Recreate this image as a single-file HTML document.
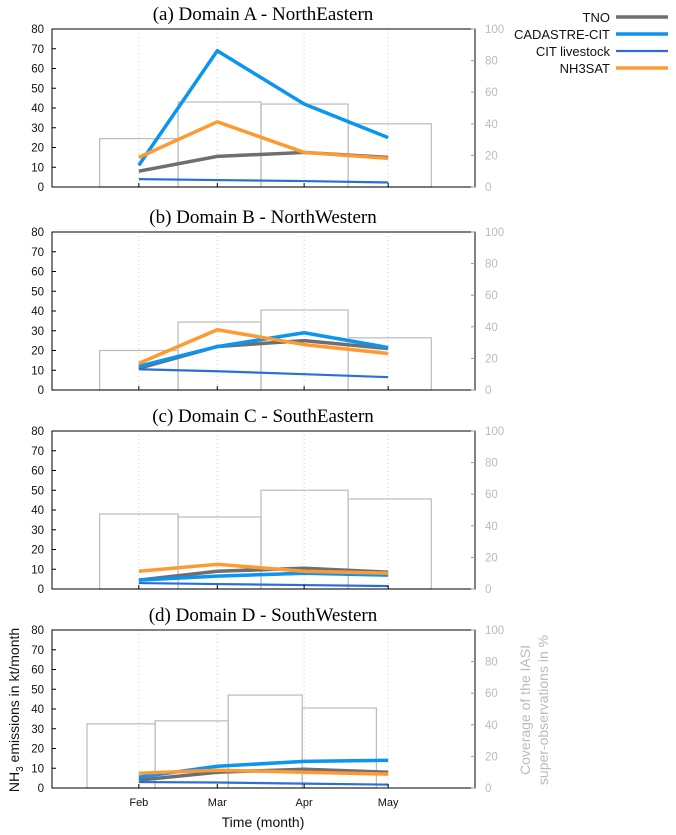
<!DOCTYPE html>
<html><head><meta charset="utf-8"><style>
body{margin:0;background:#fff}
svg{display:block;font-family:"Liberation Sans","DejaVu Sans",sans-serif}
</style></head><body>
<svg id="c" width="676" height="835" xmlns="http://www.w3.org/2000/svg"></svg>
<script>
const months=["Feb","Mar","Apr","May"];
const monthDays=[31,59,90,120];
const panelTitles=["(a) Domain A  - NorthEastern","(b) Domain B - NorthWestern","(c) Domain C - SouthEastern","(d) Domain D - SouthWestern"];
const seriesNames=["TNO","CADASTRE-CIT","CIT livestock","NH3SAT"];
const tnoVals=[[8,15.5,17.5,15],[11,22,25,21],[4.5,9,10.5,8.5],[4,8,9.5,8]];
const cadVals=[[11,69,42,25],[12,22,29,21.5],[4.5,6.5,8,7],[5.5,11,13.5,14]];
const citVals=[[4,3.5,3,2.3],[10.5,9.5,8,6.5],[3,2.5,2,1.5],[3,2.8,2.2,1.7]];
const satVals=[[15,33,17.5,14.5],[13.5,30.5,23,18.5],[9,12.5,9,8],[7.5,9,8,7]];
const coverVals=[[30.6,53.8,52.5,40],[25,43,50.6,33],[47.5,45.6,62.5,57],[40.6,42.5,58.8,50.6]];
const coverStart=[[17,45,74.6,105.7],[17,45,74.6,105.7],[17,45,74.6,105.7],[12.5,36.8,62.9,89.3]];
const coverEnd=[[45,74.6,105.7,135.4],[45,74.6,105.7,135.4],[45,74.6,105.7,135.4],[36.8,62.9,89.3,115.8]];
const leftTicks=[0,10,20,30,40,50,60,70,80];
const rightTicks=[0,20,40,60,80,100];

const svg=document.getElementById('c');
const NS="http://www.w3.org/2000/svg";
function mk(t,a,p){const e=document.createElementNS(NS,t);for(const k in a)e.setAttribute(k,a[k]);(p||svg).appendChild(e);return e;}
const X0=52,X1=475,D0=0,D1=151;
const xS=d=>X0+(d-D0)/(D1-D0)*(X1-X0);
const tops=[29,232,431,630],H=158;
const colors=["#6e6e73","#0a96f0","#2a6fd8","#ff9a33"];
const widths=[3.5,3.5,2.2,3.5];
const allSeries=[tnoVals,cadVals,citVals,satVals];

for(let p=0;p<4;p++){
  const top=tops[p],bot=top+H;
  const yL=v=>bot-v/80*H, yR=v=>bot-v/100*H;
  const g=mk('g',{});
  
  
  const t=mk('text',{x:263,y:top-9,'text-anchor':'middle','font-size':19,'font-family':'"Liberation Serif",serif',fill:'#000'},g);
  t.textContent=panelTitles[p];
  
  
  // grid
  monthDays.forEach(d=>{const l=mk('line',{x1:xS(d),x2:xS(d),y1:top,y2:bot,stroke:'#ccc','stroke-dasharray':'1,3'},g);
    });
  // bars
  for(let i=0;i<4;i++){
    const b=mk('rect',{x:xS(coverStart[p][i]),y:yR(coverVals[p][i]),width:xS(coverEnd[p][i])-xS(coverStart[p][i]),height:bot-yR(coverVals[p][i]),fill:'none',stroke:'#bbb','stroke-width':1.2},g);
    
    
  }
  // lines
  allSeries.forEach((s,si)=>{
    const pts=s[p].map((v,i)=>xS(monthDays[i])+','+yL(v)).join(' ');
    const l=mk('polyline',{points:pts,fill:'none',stroke:colors[si],'stroke-width':widths[si],'stroke-linejoin':'round'},g);
    
    
  });
  // frame
  const f=mk('rect',{x:X0,y:top,width:X1-X0,height:H,fill:'none',stroke:'#000','stroke-width':1},g);
  
  leftTicks.forEach(v=>{
    const tt=mk('text',{x:44,y:yL(v)+4,'text-anchor':'end','font-size':11.5,fill:'#111'},g);tt.textContent=v;
    
    mk('line',{x1:X0,x2:X0+4,y1:yL(v),y2:yL(v),stroke:'#000'},g);
  });
  rightTicks.forEach(v=>{
    const tt=mk('text',{x:485,y:yR(v)+4,'font-size':11.5,fill:'#bbb'},g);tt.textContent=v;
    
    mk('line',{x1:X1-4,x2:X1,y1:yR(v),y2:yR(v),stroke:'#999'},g);
  });
  monthDays.forEach(d=>mk('line',{x1:xS(d),x2:xS(d),y1:bot,y2:bot-4,stroke:'#000'},g));
}
months.forEach((m,i)=>{const t=mk('text',{x:xS(monthDays[i]),y:806,'text-anchor':'middle','font-size':11,fill:'#111'});t.textContent=m;
  });
const xt=mk('text',{x:263,y:827,'text-anchor':'middle','font-size':14,fill:'#111'});xt.textContent='Time (month)';

const yt=mk('text',{transform:'translate(19,710) rotate(-90)','text-anchor':'middle','font-size':14,fill:'#111'});
yt.innerHTML='NH<tspan font-size="10" dy="4">3</tspan><tspan dy="-4"> emissions in kt/month</tspan>';

const y2a=mk('text',{transform:'translate(530,710) rotate(-90)','text-anchor':'middle','font-size':14,fill:'#bbb'});y2a.textContent='Coverage of the IASI';

const y2b=mk('text',{transform:'translate(548,710) rotate(-90)','text-anchor':'middle','font-size':14,fill:'#bbb'});y2b.textContent='super-observations in %';

// legend
const ly=[17,34,51,68];
seriesNames.forEach((n,i)=>{
  const t=mk('text',{x:610,y:ly[i]+5,'text-anchor':'end','font-size':13,fill:'#111'});t.textContent=n;
  
  const l=mk('line',{x1:616,x2:668,y1:ly[i],y2:ly[i],stroke:colors[i],'stroke-width':widths[i]});
  
});
</script>
</body></html>
